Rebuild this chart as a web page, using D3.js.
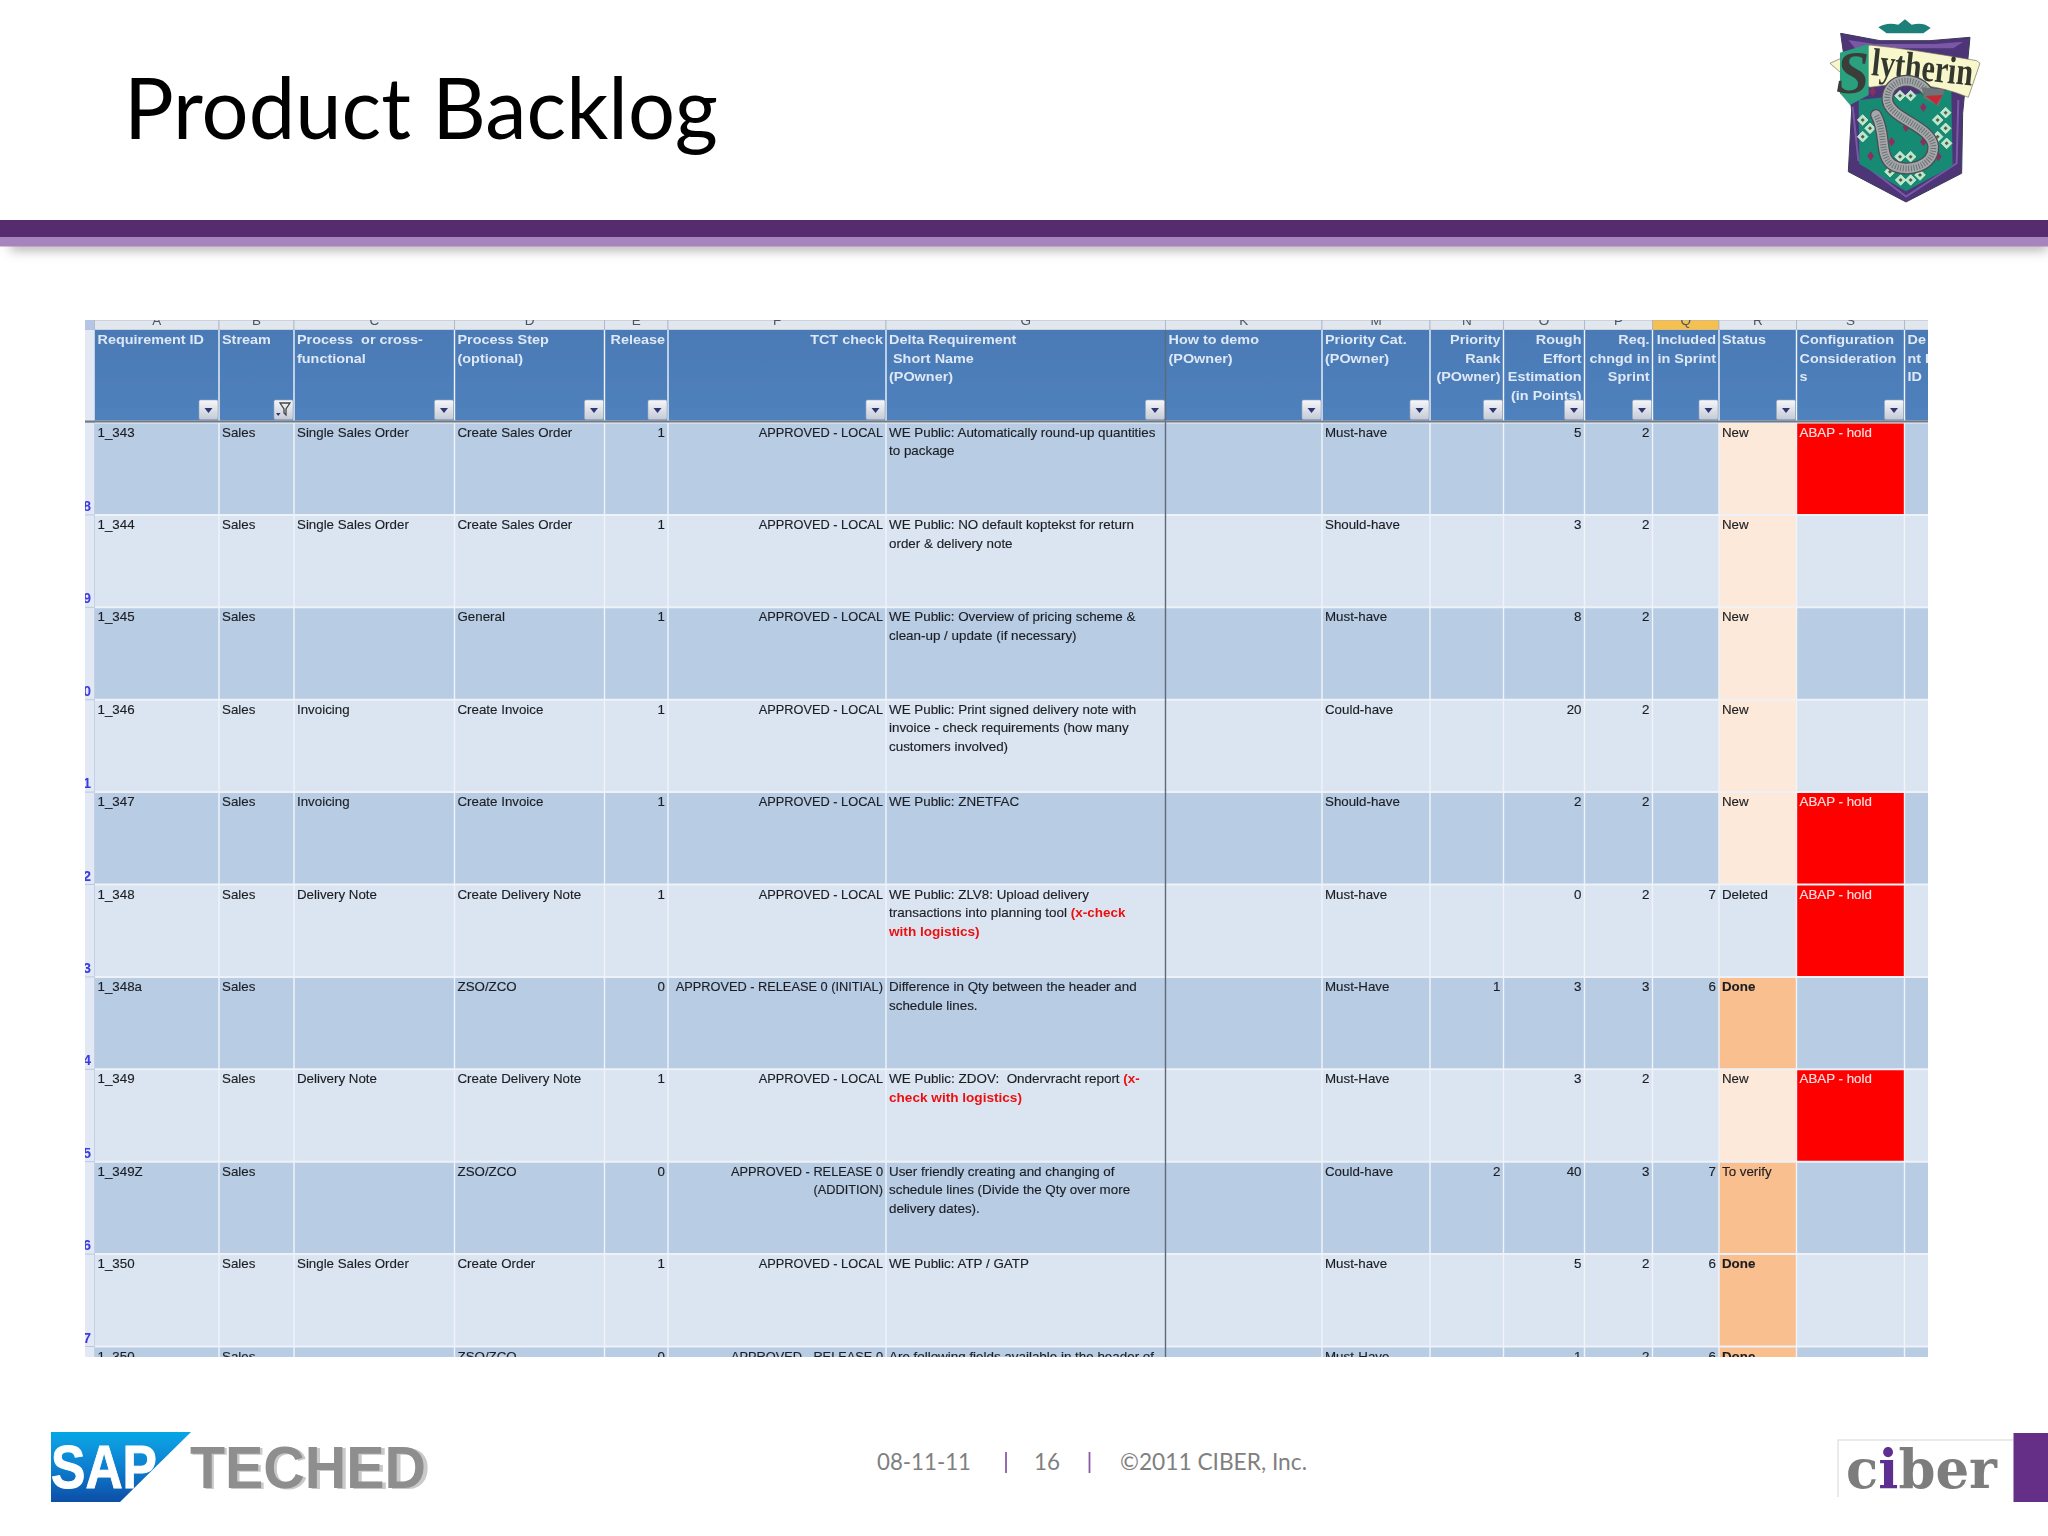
<!DOCTYPE html>
<html><head><meta charset="utf-8">
<style>html,body{margin:0;padding:0;background:#fff;}svg{display:block;}</style>
<script src="https://cdn.jsdelivr.net/npm/d3@7/dist/d3.min.js"></script>
</head><body>
<script>
const titleText = "Product Backlog";
const footerParts = ["08-11-11", "16", "©2011 CIBER, Inc."];
const columnKeys = ["id","stream","process","step","release","tct","delta","demo","cat","rank","effort","chg","sprint","status","config","dep"];
const columnLetters = ["A","B","C","D","E","F","G","K","M","N","O","P","Q","R","S",""];
const columnHeaders = [
  ["Requirement ID"],["Stream"],["Process  or cross-","functional"],["Process Step","(optional)"],["Release"],["TCT check"],
  ["Delta Requirement"," Short Name","(POwner)"],["How to demo","(POwner)"],["Priority Cat.","(POwner)"],
  ["Priority","Rank","(POwner)"],["Rough","Effort","Estimation","(in Points)"],["Req.","chngd in","Sprint"],["Included","in Sprint"],["Status"],
  ["Configuration","Consideration","s"],["De","nt I","ID"]];
const rightAligned = ["release","tct","rank","effort","chg","sprint"];
const rowNumbers = ["8","9","0","1","2","3","4","5","6","7",""];
const ids = ["1_343","1_344","1_345","1_346","1_347","1_348","1_348a","1_349","1_349Z","1_350","1_350"];
const streams = ["Sales","Sales","Sales","Sales","Sales","Sales","Sales","Sales","Sales","Sales","Sales"];
const processes = ["Single Sales Order","Single Sales Order","","Invoicing","Invoicing","Delivery Note","","Delivery Note","","Single Sales Order",""];
const steps = ["Create Sales Order","Create Sales Order","General","Create Invoice","Create Invoice","Create Delivery Note","ZSO/ZCO","Create Delivery Note","ZSO/ZCO","Create Order","ZSO/ZCO"];
const releases = ["1","1","1","1","1","1","0","1","0","1","0"];
const tctChecks = [["APPROVED - LOCAL"],["APPROVED - LOCAL"],["APPROVED - LOCAL"],["APPROVED - LOCAL"],["APPROVED - LOCAL"],["APPROVED - LOCAL"],
  ["APPROVED - RELEASE 0 (INITIAL)"],["APPROVED - LOCAL"],["APPROVED - RELEASE 0","(ADDITION)"],["APPROVED - LOCAL"],["APPROVED - RELEASE 0"]];
const deltas = [
  ["WE Public: Automatically round-up quantities","to package"],
  ["WE Public: NO default koptekst for return","order & delivery note"],
  ["WE Public: Overview of pricing scheme &","clean-up / update (if necessary)"],
  ["WE Public: Print signed delivery note with","invoice - check requirements (how many","customers involved)"],
  ["WE Public: ZNETFAC"],
  ["WE Public: ZLV8: Upload delivery","transactions into planning tool (x-check","with logistics)"],
  ["Difference in Qty between the header and","schedule lines."],
  ["WE Public: ZDOV:  Ondervracht report (x-","check with logistics)"],
  ["User friendly creating and changing of","schedule lines (Divide the Qty over more","delivery dates)."],
  ["WE Public: ATP / GATP"],
  ["Are following fields available in the header of"]];
const redPhrases = ["(x-check","with logistics)","(x-","check with logistics)"];
const priorityCats = ["Must-have","Should-have","Must-have","Could-have","Should-have","Must-have","Must-Have","Must-Have","Could-have","Must-have","Must-Have"];
const priorityRanks = ["","","","","","","1","","2","",""];
const efforts = ["5","3","8","20","2","0","3","3","40","5","1"];
const reqChanged = ["2","2","2","2","2","2","3","2","3","2","2"];
const sprints = ["","","","","","7","6","","7","6","6"];
const statuses = ["New","New","New","New","New","Deleted","Done","New","To verify","Done","Done"];
const configs = ["ABAP - hold","","","","ABAP - hold","ABAP - hold","","ABAP - hold","","",""];

const svg = d3.select("body").append("svg").attr("width",2048).attr("height",1536).attr("viewBox","0 0 2048 1536");
const defs = svg.append("defs");
const blur = (id,s)=>defs.append("filter").attr("id",id).attr("x","-5%").attr("y","-5%").attr("width","110%").attr("height","110%")
   .append("feGaussianBlur").attr("stdDeviation",s);
blur("soft",0.45); blur("soft2",0.7);
defs.append("filter").attr("id","shadow").attr("x","-5%").attr("y","-200%").attr("width","110%").attr("height","500%")
   .append("feGaussianBlur").attr("stdDeviation",6);
defs.append("clipPath").attr("id","tableClip").append("rect").attr("x",85).attr("y",320).attr("width",1843).attr("height",1037);
const grad=(id,stops,x2=0,y2=1)=>{const g=defs.append("linearGradient").attr("id",id).attr("x1",0).attr("y1",0).attr("x2",x2).attr("y2",y2);
  stops.forEach(([o,c])=>g.append("stop").attr("offset",o).attr("stop-color",c));};
grad("sapGrad",[[0,"#06a7e6"],[0.5,"#0a7fd0"],[1,"#0d4ea6"]]);
grad("btnGrad",[[0,"#f6f7f9"],[1,"#c4cad6"]]);
grad("hdrGrad",[[0,"#4a7ab5"],[1,"#4f81bd"]]);

// Fit a label to the width the hinted spreadsheet font gave it.
const fit = (t,f)=>{ const n=t.node(); const w=n.getComputedTextLength(); if(w>0) t.attr("textLength",w*f).attr("lengthAdjust","spacingAndGlyphs"); };

/* slide title + bar */
svg.append("text").attr("x",124).attr("y",139).attr("font-family","Lato").attr("font-size",85).attr("fill","#000")
   .attr("textLength",594).attr("lengthAdjust","spacingAndGlyphs").text(titleText);
svg.append("rect").attr("x",10).attr("y",240).attr("width",2038).attr("height",10).attr("fill","#555").attr("opacity",0.5).attr("filter","url(#shadow)");
svg.append("rect").attr("x",0).attr("y",220).attr("width",2048).attr("height",17).attr("fill","#572c6f");
svg.append("rect").attr("x",0).attr("y",237).attr("width",2048).attr("height",9.5).attr("fill","#a585bc");

/* table */
const edges = [94.5,219,294,454.5,604.5,668,886,1165.5,1322,1430,1503.5,1584.5,1652.5,1719,1796.5,1904.5,1960];
const x0 = d3.scaleOrdinal(columnKeys, edges.slice(0,-1));
const x1 = d3.scaleOrdinal(columnKeys, edges.slice(1));
const rowIdx = d3.range(ids.length);
const y = d3.scaleBand().domain(rowIdx).range([422.5,422.5+92.4*ids.length]);
const FS = 13.6, LH = 18.6;

const table = svg.append("g").attr("clip-path","url(#tableClip)").append("g").attr("filter","url(#soft)");
const FONT = "'Liberation Sans', Arial, sans-serif";

// corner, row-number strip
table.append("rect").attr("x",85).attr("y",320).attr("width",9.5).attr("height",1040).attr("fill","#e2e9f5");
table.append("rect").attr("x",85).attr("y",320).attr("width",9.5).attr("height",10).attr("fill","#b4c6e4");
table.selectAll("text.rn").data(rowIdx).join("text").attr("class","rn")
  .attr("x",91).attr("y",d=>y(d)+y.bandwidth()-4).attr("text-anchor","end").attr("font-family",FONT).attr("font-weight","bold").attr("font-size",14)
  .attr("fill","#3a3ae0").text(d=>rowNumbers[d]);
table.selectAll("line.rnl").data(rowIdx).join("line").attr("class","rnl")
  .attr("x1",85).attr("x2",94.5).attr("y1",d=>y(d)).attr("y2",d=>y(d)).attr("stroke","#b9c9e2").attr("stroke-width",1);

// column letters
table.selectAll("rect.cl").data(columnKeys).join("rect").attr("class","cl")
  .attr("x",k=>x0(k)).attr("y",320).attr("width",k=>x1(k)-x0(k)).attr("height",10)
  .attr("fill",k=>k==="sprint"?"#f5c04f":"#e2e7ee").attr("stroke","#a9b5c7").attr("stroke-width",0.8);
table.selectAll("text.cl").data(columnKeys).join("text").attr("class","cl")
  .attr("x",k=>(x0(k)+x1(k))/2).attr("y",325).attr("text-anchor","middle").attr("font-family",FONT).attr("font-size",13.5).attr("fill","#4a5560")
  .text((k,i)=>columnLetters[i]);

// header band
table.selectAll("rect.h").data(columnKeys).join("rect").attr("class","h")
  .attr("x",k=>x0(k)).attr("y",330).attr("width",k=>x1(k)-x0(k)).attr("height",90.5).attr("fill","url(#hdrGrad)");
const clipOf = k=>"clip-"+k;
columnKeys.forEach(k=>defs.append("clipPath").attr("id",clipOf(k)).append("rect").attr("x",x0(k)).attr("y",322).attr("width",x1(k)-x0(k)-1).attr("height",1040));
const hdr = table.selectAll("g.hc").data(columnKeys).join("g").attr("class","hc").attr("clip-path",k=>`url(#${clipOf(k)})`);
hdr.each(function(k,i){
  const right = rightAligned.includes(k);
  d3.select(this).selectAll("text").data(columnHeaders[i]).join("text")
    .attr("xml:space","preserve").style("white-space","pre")
    .attr("x",right? x1(k)-3 : x0(k)+3).attr("y",(d,j)=>344+j*18.7).attr("text-anchor",right?"end":"start")
    .attr("font-family",FONT).attr("font-weight","bold").attr("font-size",FS).attr("fill","#dfe8f5").text(d=>d)
    .each(function(){ fit(d3.select(this),1.06); });
});

// body rows
table.selectAll("rect.row").data(rowIdx).join("rect").attr("class","row")
  .attr("x",94.5).attr("y",d=>y(d)).attr("width",1833.5).attr("height",y.bandwidth())
  .attr("fill",d=>d%2?"#dbe5f1":"#b8cce4");

// status + config fills
const statusFill = s=>s==="New"?"#fde9d9":(s==="Done"||s==="To verify")?"#fabf8f":"none";
table.selectAll("rect.st").data(rowIdx).join("rect").attr("class","st")
  .attr("x",x0("status")).attr("y",d=>y(d)).attr("width",x1("status")-x0("status")).attr("height",y.bandwidth())
  .attr("fill",d=>statusFill(statuses[d]));
table.selectAll("rect.cf").data(rowIdx.filter(d=>configs[d])).join("rect").attr("class","cf")
  .attr("x",x0("config")).attr("y",d=>y(d)).attr("width",x1("config")-x0("config")).attr("height",y.bandwidth())
  .attr("fill","#ff0000");

// grid lines
table.selectAll("line.rg").data(rowIdx).join("line").attr("class","rg")
  .attr("x1",94.5).attr("x2",1928).attr("y1",d=>y(d)).attr("y2",d=>y(d)).attr("stroke","#eef2f8").attr("stroke-width",2);
table.selectAll("line.vg").data(columnKeys.slice(1)).join("line").attr("class","vg")
  .attr("x1",k=>x0(k)).attr("x2",k=>x0(k)).attr("y1",330).attr("y2",1360)
  .attr("stroke",k=>k==="demo"?"#5e6a78":"#f0f4fa").attr("stroke-width",1.4);
table.append("line").attr("x1",94.5).attr("x2",94.5).attr("y1",330).attr("y2",1360).attr("stroke","#c3d1e6").attr("stroke-width",1);
table.append("line").attr("x1",85).attr("x2",1928).attr("y1",421.5).attr("y2",421.5).attr("stroke","#707880").attr("stroke-width",2);

// body text
const cellLines = {
  id:i=>[ids[i]],stream:i=>[streams[i]],process:i=>[processes[i]],step:i=>[steps[i]],release:i=>[releases[i]],
  tct:i=>tctChecks[i],delta:i=>deltas[i],demo:()=>[],cat:i=>[priorityCats[i]],rank:i=>[priorityRanks[i]],
  effort:i=>[efforts[i]],chg:i=>[reqChanged[i]],sprint:i=>[sprints[i]],status:i=>[statuses[i]],config:i=>[configs[i]],dep:()=>[]};
const widthFactor = k=>k==="tct"?0.94:k==="delta"?0.985:0.98;
rowIdx.forEach(i=>{
  columnKeys.forEach(k=>{
    const right = rightAligned.includes(k);
    const g = table.append("g");
    cellLines[k](i).forEach((line,j)=>{
      if(!line) return;
      const ink = k==="config"?"#ffe0e0":"#1c1f24";
      const t = g.append("text").attr("xml:space","preserve").style("white-space","pre")
        .attr("x",right? x1(k)-3 : x0(k)+3).attr("y",y(i)+14+j*LH)
        .attr("text-anchor",right?"end":"start").attr("font-family",FONT).attr("font-size",FS)
        .attr("fill",ink).attr("stroke",ink).attr("stroke-width",0.15);
      if(k==="status"&&line==="Done") t.attr("font-weight","bold");
      if(k==="delta"){
        const red = redPhrases.filter(p=>line.endsWith(p)).sort((a,b)=>b.length-a.length)[0];
        if(red){
          t.append("tspan").text(line.slice(0,line.length-red.length));
          t.append("tspan").attr("fill","#ee1111").attr("stroke","none").attr("font-weight","bold").text(red);
          if(line.length>red.length) fit(t,0.99);
          return;
        }
      }
      t.text(line);
      fit(t,widthFactor(k));
    });
  });
});

// filter buttons
const btn = table.selectAll("g.btn").data(columnKeys.slice(0,-1)).join("g").attr("class","btn")
  .attr("transform",k=>`translate(${x1(k)-20},400)`);
btn.append("rect").attr("width",19).attr("height",19.5).attr("rx",1.5).attr("fill","url(#btnGrad)").attr("stroke","#9aa6ba").attr("stroke-width",0.6);
btn.filter(k=>k!=="stream").append("path").attr("d","M5.5 8 L13.5 8 L9.5 13 Z").attr("fill","#2e3676");
btn.filter(k=>k==="stream").append("path").attr("d","M6 3 L16 3 L12 9 L12 15 L10 13 L10 9 Z").attr("fill","none").attr("stroke","#444").attr("stroke-width",1.3);
btn.filter(k=>k==="stream").append("path").attr("d","M2 13 L6.5 13 L4.2 16 Z").attr("fill","#2e3676");

/* footer */
const footX = [877,1034,1120], footW = [94,26,187];
svg.selectAll("text.foot").data(footerParts).join("text").attr("class","foot")
  .attr("x",(d,i)=>footX[i]).attr("y",1470).attr("font-family","Lato").attr("font-size",24).attr("fill","#7f7f7f")
  .attr("textLength",(d,i)=>footW[i]).attr("lengthAdjust","spacingAndGlyphs").text(d=>d);
svg.selectAll("line.sep").data([1006,1089.5]).join("line").attr("class","sep")
  .attr("x1",d=>d).attr("x2",d=>d).attr("y1",1452).attr("y2",1473).attr("stroke","#8a5aa8").attr("stroke-width",1.8);

/* SAP TechEd logo */
const sap = svg.append("g").attr("filter","url(#soft)");
sap.append("path").attr("d","M51 1432 L191 1432 L120 1502 L51 1502 Z").attr("fill","url(#sapGrad)");
sap.append("text").attr("x",51).attr("y",1488).attr("font-family",FONT).attr("font-weight","bold").attr("font-size",62)
   .attr("fill","#fff").attr("stroke","#fff").attr("stroke-width",1).attr("textLength",106).attr("lengthAdjust","spacingAndGlyphs").text("SAP");
sap.append("text").attr("x",190).attr("y",1488).attr("font-family",FONT).attr("font-weight","bold").attr("font-size",60)
   .attr("fill","#c9c9c9").attr("transform","translate(2,1)").attr("textLength",238).attr("lengthAdjust","spacingAndGlyphs").text("TECHED");
sap.append("text").attr("x",190).attr("y",1488).attr("font-family",FONT).attr("font-weight","bold").attr("font-size",60)
   .attr("fill","#8e8e8e").attr("textLength",236).attr("lengthAdjust","spacingAndGlyphs").text("TECHED");

/* ciber logo */
const cb = svg.append("g").attr("filter","url(#soft)");
cb.append("path").attr("d","M1838 1497 L1838 1440 L2013 1440").attr("fill","none").attr("stroke","#e4e4e4").attr("stroke-width",1.5);
const cbt = cb.append("text").attr("x",1846).attr("y",1488).attr("font-family","'DejaVu Serif'").attr("font-weight","bold").attr("font-size",55)
   .attr("fill","#7d7d7d").attr("textLength",151).attr("lengthAdjust","spacingAndGlyphs");
cbt.append("tspan").text("c");
cbt.append("tspan").attr("fill","#5f2d91").text("i");
cbt.append("tspan").text("ber");
svg.append("rect").attr("x",2013.5).attr("y",1433).attr("width",34.5).attr("height",69).attr("fill","#652f87");

/* crest (decorative, drawn in the crop's 3x coordinates) */
const cr = svg.append("g").attr("transform","translate(1780,0) scale(0.3333)").attr("filter","url(#soft2)");
cr.append("path").attr("d","M295 82 Q320 65 355 74 L375 58 L395 74 Q430 65 452 84 L430 100 L320 100 Z").attr("fill","#1f7f78");
cr.append("path").attr("d","M182 100 L300 122 L450 122 L570 112 L548 340 L545 520 L378 606 L205 515 L215 330 Z").attr("fill","#4d3578").attr("stroke","#3a3a55").attr("stroke-width",3);
cr.append("path").attr("d","M205 120 L285 132 L465 132 L550 125 L520 145 L225 145 Z").attr("fill","#7a58a6");
cr.append("path").attr("d","M218 320 L235 480 L378 590 L530 490 L535 300").attr("fill","none").attr("stroke","#7a58a6").attr("stroke-width",6);
cr.append("path").attr("d","M236 300 L514 270 L518 498 L378 574 L238 492 Z").attr("fill","#178a72");
const diamonds = [[360,287],[392,287],[473,360],[497,338],[497,385],[473,410],[500,430],[248,360],[248,410],[270,385],[360,470],[392,470],[330,515],[362,540],[392,540],[420,525]];
const dm = cr.selectAll("g.dm").data(diamonds).join("g").attr("class","dm").attr("transform",d=>`translate(${d[0]},${d[1]})`);
dm.append("path").attr("d","M0 -16 L16 0 L0 16 L-16 0 Z").attr("fill","#b9e8cc").attr("stroke","#f4f4ea").attr("stroke-width",2);
dm.append("path").attr("d","M0 -6 L6 0 L0 6 L-6 0 Z").attr("fill","#5a5a42");
[[278,275],[430,322],[378,382],[272,468],[335,425],[430,425],[475,470]].forEach(d=>{
  cr.append("path").attr("d",`M${d[0]} ${d[1]-14} L${d[0]+10} ${d[1]} L${d[0]} ${d[1]+14} L${d[0]-10} ${d[1]} Z`).attr("fill","#8d2f5f");
});
cr.append("path").attr("d","M150 190 L270 135 Q400 148 590 182 L600 190 L565 292 Q430 235 270 262 L190 225 Z").attr("fill","#f8f6cb").attr("stroke","#6d6d5a").attr("stroke-width",2);
cr.append("path").attr("d","M180 158 L266 132 L266 285 L210 315 L180 280 Z").attr("fill","#2aa07e");
cr.append("text").attr("x",168).attr("y",278).attr("font-family","'Liberation Serif'").attr("font-style","italic").attr("font-weight","bold").attr("font-size",185)
  .attr("textLength",100).attr("lengthAdjust","spacingAndGlyphs").attr("fill","#3b3e3a").text("S");
cr.append("text").attr("x",272).attr("y",225).attr("transform","rotate(6 272 225)").attr("font-family","'Liberation Serif'").attr("font-weight","bold").attr("font-size",118)
  .attr("textLength",305).attr("lengthAdjust","spacingAndGlyphs").attr("fill","#33382f").text("lytherin");
const snake = "M440 272 C400 225 325 235 322 295 C320 355 455 375 460 440 C462 500 380 520 338 495 C296 470 320 400 288 345";
cr.append("path").attr("d",snake).attr("fill","none").attr("stroke","#4c5054").attr("stroke-width",36).attr("stroke-linecap","round");
cr.append("path").attr("d",snake).attr("fill","none").attr("stroke","#a4a8aa").attr("stroke-width",28).attr("stroke-linecap","round");
cr.append("path").attr("d",snake).attr("fill","none").attr("stroke","#6d7174").attr("stroke-width",18).attr("stroke-dasharray","3 5");
cr.append("path").attr("d","M425 262 L495 268 L475 318 L432 295 Z").attr("fill","#6e7376");
cr.append("path").attr("d","M437 288 L488 285 L470 314 Z").attr("fill","#c22b35");
</script>
</body></html>
